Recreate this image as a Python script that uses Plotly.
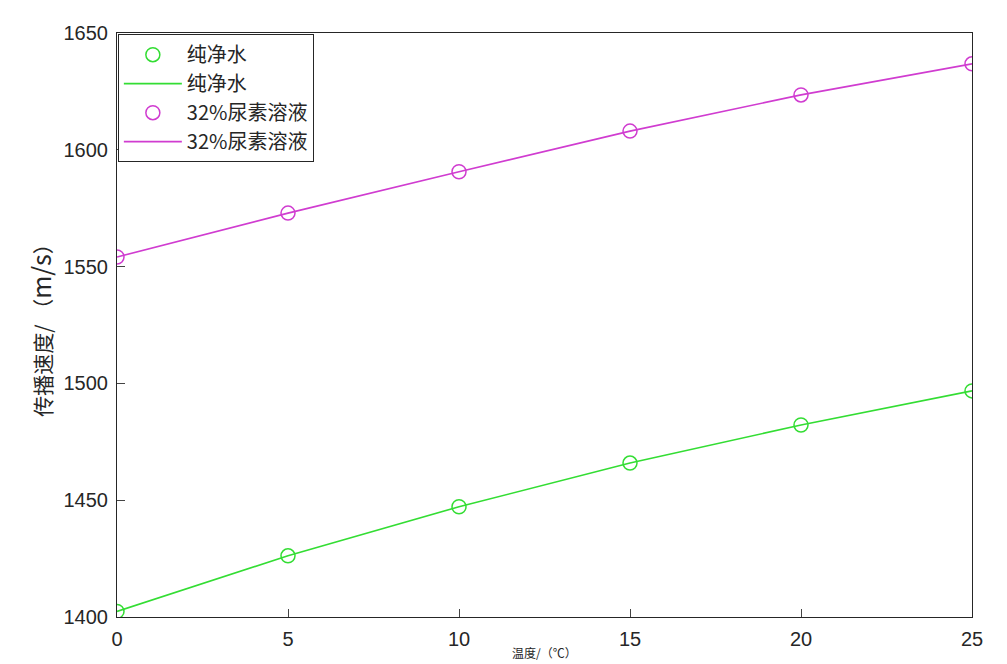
import plotly.graph_objects as go

temps = [0, 5, 10, 15, 20, 25]
water = [1402.4, 1426.2, 1447.2, 1465.9, 1482.2, 1496.8]
urea = [1554.1, 1572.9, 1590.6, 1608.0, 1623.5, 1636.8]
name_water = "纯净水"
name_urea = "32%尿素溶液"
y_ticks = [1400, 1450, 1500, 1550, 1600, 1650]
x_ticks = [0, 5, 10, 15, 20, 25]

green = "#33dd33"
magenta = "#d03cd0"
cjk = "Noto Sans CJK SC, Liberation Sans, Arial, sans-serif"
latin = "Liberation Sans, Arial, sans-serif"
ink = "#262626"

fig = go.Figure()
fig.add_trace(go.Scatter(x=temps, y=water, mode="markers", name=name_water,
                         marker=dict(symbol="circle-open", size=14, color=green, line=dict(width=1.5, color=green))))
fig.add_trace(go.Scatter(x=temps, y=water, mode="lines", name=name_water,
                         line=dict(color=green, width=1.6)))
fig.add_trace(go.Scatter(x=temps, y=urea, mode="markers", name=name_urea,
                         marker=dict(symbol="circle-open", size=14, color=magenta, line=dict(width=1.5, color=magenta))))
fig.add_trace(go.Scatter(x=temps, y=urea, mode="lines", name=name_urea,
                         line=dict(color=magenta, width=1.6)))

fig.update_layout(
    width=999, height=656,
    margin=dict(l=109, r=35, t=25, b=47),
    paper_bgcolor="white", plot_bgcolor="white",
    font=dict(family=cjk, color=ink),
    legend=dict(x=0.001, y=0.998, xanchor="left", yanchor="top",
                bgcolor="white", bordercolor=ink, borderwidth=1,
                font=dict(size=20, family=cjk, color=ink),
                tracegroupgap=0, itemwidth=58),
    showlegend=True,
)
fig.update_xaxes(range=[0, 25], tickvals=x_ticks, ticks="inside", ticklen=8,
                 showline=True, linecolor=ink, linewidth=1.2, mirror=True,
                 showgrid=False, zeroline=False, ticklabelstandoff=4,
                 tickfont=dict(size=20, family=latin, color=ink))
fig.update_yaxes(range=[1400, 1650], tickvals=y_ticks, ticks="inside", ticklen=8,
                 showline=True, linecolor=ink, linewidth=1.2, mirror=True,
                 showgrid=False, zeroline=False, ticklabelstandoff=4,
                 tickfont=dict(size=20, family=latin, color=ink),
                 title=dict(text="传播速度/ （<span style='font-size:25px'>m/s</span>）",
                            font=dict(size=21, family=cjk, color=ink), standoff=6))
fig.add_annotation(text="温度/（℃）", xref="paper", yref="paper", x=0.5, y=-0.079,
                   xanchor="center", yanchor="bottom", showarrow=False,
                   font=dict(size=12, family=cjk, color=ink))

fig.write_html("out.html")
